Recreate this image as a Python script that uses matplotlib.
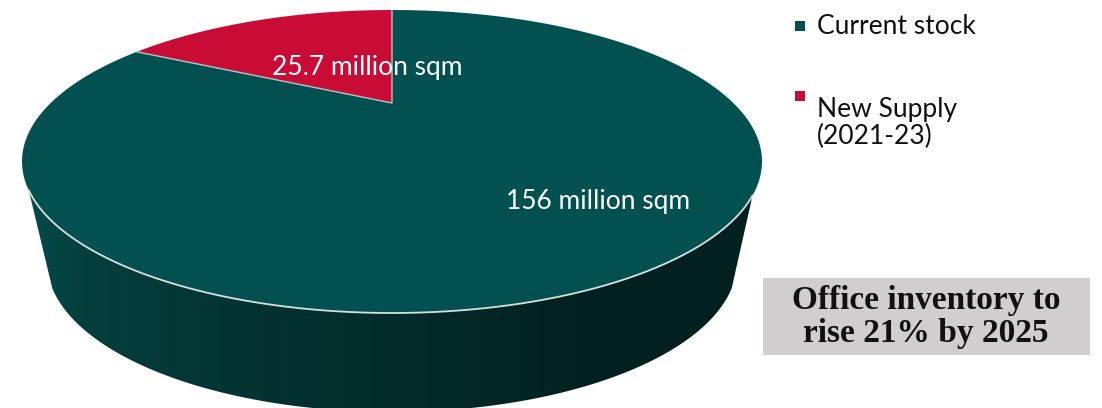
import numpy as np
import matplotlib
matplotlib.use('Agg')
import matplotlib.pyplot as plt
from matplotlib.colors import LinearSegmentedColormap
from matplotlib.patches import Polygon, Rectangle

categories = ["Current stock", "New Supply\n(2021-23)"]
stock_values = [156, 25.7]
value_labels = ["156 million sqm", "25.7 million sqm"]
callout = "Office inventory to\nrise 21% by 2025"

TEAL = "#02504f"
RED = "#c80c36"
RIM = "#d6dfde"

# geometry of the tilted disc, in pixels
CX, CY, RX, RY = 392, 161.5, 370, 151.5
APEX = (392, 103)
TILT = 0.172
LOW_CX, LOW_CY, LOW_RX, LOW_RY = 392, 262, 345, 150


def rim_point(angle):
    # angle is clockwise from the far side of the disc, foreshortened by the tilt
    u, v = np.sin(angle), np.cos(angle)
    d = 1 + TILT * v
    x = u * np.sqrt(1 - TILT ** 2) / d
    y = (v + TILT) / d
    return CX + RX * x, CY - RY * y


def wedge(start, stop):
    xs, ys = rim_point(np.linspace(start, stop, 300))
    return np.column_stack([np.r_[APEX[0], xs], np.r_[APEX[1], ys]])


fig = plt.figure(figsize=(11.02, 4.08), dpi=100)
ax = fig.add_axes([0, 0, 1, 1])
ax.set_xlim(0, 1102)
ax.set_ylim(408, 0)
ax.axis('off')

# side wall: front of the upper ellipse joined to the front of the lower one
t = np.linspace(np.radians(100), np.radians(260), 300)
upper_x = CX + RX * np.sin(np.linspace(np.radians(259), np.radians(103), 300))
upper_y = CY - RY * np.cos(np.linspace(np.radians(259), np.radians(103), 300))
lower_x = LOW_CX + LOW_RX * np.sin(t)
lower_y = LOW_CY - LOW_RY * np.cos(t)
wall = Polygon(np.column_stack([np.r_[upper_x, lower_x], np.r_[upper_y, lower_y]]),
               closed=True, facecolor='none', edgecolor='none')
ax.add_patch(wall)

shade = LinearSegmentedColormap.from_list("wall", [
    (0.0, "#034c4b"), (0.08, "#033f3e"), (0.16, "#043a39"), (0.35, "#03312f"),
    (0.5, "#022c2a"), (0.75, "#02211f"), (1.0, "#03201f")])
grad = ax.imshow(np.linspace(0, 1, 400).reshape(1, -1), cmap=shade, aspect='auto',
                 extent=(22, 762, 408, 150), zorder=1)
grad.set_clip_path(wall)
ax.set_xlim(0, 1102)
ax.set_ylim(408, 0)

# top face, slices run clockwise with the new supply ending at twelve o'clock
sweep = 2 * np.pi * stock_values[1] / sum(stock_values)
ax.add_patch(Polygon(wedge(0, 2 * np.pi - sweep), closed=True, facecolor=TEAL,
                     edgecolor='none', zorder=2))
ax.add_patch(Polygon(wedge(2 * np.pi - sweep, 2 * np.pi), closed=True, facecolor=RED,
                     edgecolor='none', zorder=2))

# light lines along the slice edges and the front rim
ex, ey = rim_point(2 * np.pi - sweep)
ax.plot([ex, APEX[0], APEX[0]], [ey, APEX[1], CY - RY], color="#b9c2c4", lw=1.0,
        solid_joinstyle='miter', zorder=3)
ax.plot(upper_x, upper_y, color=RIM, lw=1.3, zorder=3)

ax.text(598, 201, value_labels[0], color='white', family='Lato', fontsize=19,
        ha='center', va='center', zorder=4)
ax.text(367, 67, value_labels[1], color='white', family='Lato', fontsize=19,
        ha='center', va='center', zorder=4)

# legend
for colour, y, label, ty in zip([TEAL, RED], [21, 91], categories, [26, 123]):
    ax.add_patch(Rectangle((795, y), 10, 10, facecolor=colour, edgecolor='none'))
    ax.text(817, ty, label, color='#111111', family='Lato', fontsize=19,
            ha='left', va='center', linespacing=1.1)

# callout box
ax.add_patch(Rectangle((763, 278), 327, 77, facecolor='#d0cece', edgecolor='none'))
ax.text(926, 317, callout, color='#111111', family='Liberation Serif', fontweight='bold',
        fontsize=24, ha='center', va='center', linespacing=1.05)

fig.savefig('out.png', dpi=100)
